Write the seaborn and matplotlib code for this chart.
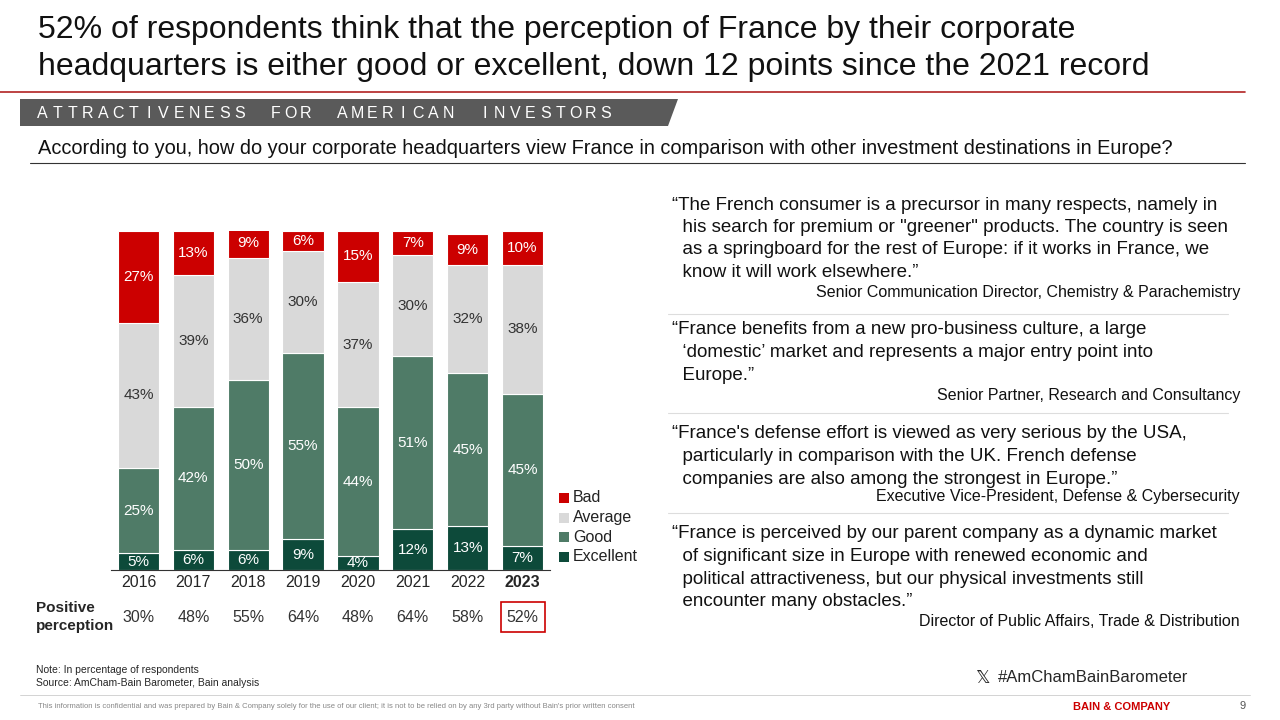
import matplotlib
matplotlib.use("Agg")
import matplotlib.pyplot as plt
import seaborn as sns
import numpy as np
import pandas as pd
from matplotlib.patches import Polygon, Rectangle

years = ["2016", "2017", "2018", "2019", "2020", "2021", "2022", "2023"]
excellent = [5, 6, 6, 9, 4, 12, 13, 7]
good = [25, 42, 50, 55, 44, 51, 45, 45]
average = [43, 39, 36, 30, 37, 30, 32, 38]
bad = [27, 13, 9, 6, 15, 7, 9, 10]
positive = ["30%", "48%", "55%", "64%", "48%", "64%", "58%", "52%"]
series_names = ["Bad", "Average", "Good", "Excellent"]
colors = {"Bad": "#CC0000", "Average": "#D9D9D9", "Good": "#4F7B67", "Excellent": "#0D4A3A"}
txtcol = {"Bad": "white", "Average": "#333333", "Good": "white", "Excellent": "white"}

sns.set_style("white")
plt.rcParams['font.family'] = ['Liberation Sans', 'DejaVu Sans']

W, H = 1280, 720
fig = plt.figure(figsize=(12.8, 7.2), dpi=100)

def fx(x): return x / W
def fy(y): return 1 - y / H

# Title
fig.text(fx(38), fy(30), "52% of respondents think that the perception of France by their corporate",
         fontsize=23, va="center", color="#111111")
fig.text(fx(38), fy(67), "headquarters is either good or excellent, down 12 points since the 2021 record",
         fontsize=23, va="center", color="#111111")
fig.add_artist(plt.Line2D([0, fx(1245)], [fy(92), fy(92)], color="#B22222", lw=1.2))
# banner
fig.add_artist(Polygon([[fx(20), fy(99)], [fx(678), fy(99)], [fx(668), fy(126)], [fx(20), fy(126)]],
                       closed=True, facecolor="#5A5A5A", edgecolor="none", transform=fig.transFigure))
words = ["ATTRACTIVENESS", "FOR", "AMERICAN", "INVESTORS"]
xpos = 42.0
for wi, w in enumerate(words):
    for ci, ch in enumerate(w):
        fig.text(fx(xpos), fy(113), ch, fontsize=11.5, color="white", va="center", ha="center")
        if ci < len(w) - 1:
            xpos += 15.2
    xpos += 36
fig.text(fx(38), fy(148), "According to you, how do your corporate headquarters view France in comparison with other investment destinations in Europe?",
         fontsize=14.4, va="center", color="#111111")
fig.add_artist(plt.Line2D([fx(30), fx(1245)], [fy(163), fy(163)], color="#333333", lw=0.8))

# Chart
ax = fig.add_axes([fx(111), fy(570), fx(439), (570 - 231) / H])
df = pd.DataFrame({"year": years, "Excellent": excellent, "Good": good, "Average": average, "Bad": bad})
order_stack = ["Excellent", "Good", "Average", "Bad"]
bottom = np.zeros(len(years))
for s in order_stack:
    vals = np.array(df[s], dtype=float)
    sns.barplot(x=df["year"], y=vals, bottom=bottom, color=colors[s], width=0.75,
                edgecolor="white", linewidth=0.8, ax=ax, saturation=1)
    for i, v in enumerate(vals):
        ax.text(i, bottom[i] + v / 2, f"{int(v)}%", ha="center", va="center",
                color=txtcol[s], fontsize=11)
    bottom += vals
ax.set_ylim(0, 100)
ax.set_xlim(-0.5, 7.5)
ax.set_yticks([])
ax.set_xlabel("")
ax.set_ylabel("")
for sp in ["top", "left", "right"]:
    ax.spines[sp].set_visible(False)
ax.spines["bottom"].set_color("#333333")
ax.tick_params(axis="x", length=0, labelsize=11.5)
for l in ax.get_xticklabels():
    if l.get_text() == "2023":
        l.set_fontweight("bold")

# positive perception row
fig.text(fx(36), fy(608), "Positive", fontsize=11, fontweight="bold", va="center")
fig.text(fx(36), fy(626), "perception", fontsize=11, fontweight="bold", va="center")
for i, p in enumerate(positive):
    xd = ax.transData.transform((i, 0))[0]
    fig.text(xd / W, fy(617), p, ha="center", va="center", fontsize=11.5, color="#333333")
xd = ax.transData.transform((7, 0))[0]
fig.add_artist(Rectangle((fx(xd - 22), fy(632)), 44 / W, 30 / H, fill=False, edgecolor="#CC0000",
                         lw=1.2, transform=fig.transFigure))

# legend
for k, s in enumerate(series_names):
    y = 498 + k * 19.5
    fig.add_artist(Rectangle((fx(559), fy(y + 5)), 10 / W, 10 / H, facecolor=colors[s],
                             edgecolor="none", transform=fig.transFigure))
    fig.text(fx(573), fy(y), s, fontsize=11.5, va="center", color="#222222")

# quotes
quotes = [
    (["\u201cThe French consumer is a precursor in many respects, namely in",
      "  his search for premium or \"greener\" products. The country is seen",
      "  as a springboard for the rest of Europe: if it works in France, we",
      "  know it will work elsewhere.\u201d"], 205, "Senior Communication Director, Chemistry & Parachemistry", 293),
    (["\u201cFrance benefits from a new pro-business culture, a large",
      "  \u2018domestic\u2019 market and represents a major entry point into",
      "  Europe.\u201d"], 330, "Senior Partner, Research and Consultancy", 395),
    (["\u201cFrance's defense effort is viewed as very serious by the USA,",
      "  particularly in comparison with the UK. French defense",
      "  companies are also among the strongest in Europe.\u201d"], 434, "Executive Vice-President, Defense & Cybersecurity", 497),
    (["\u201cFrance is perceived by our parent company as a dynamic market",
      "  of significant size in Europe with renewed economic and",
      "  political attractiveness, but our physical investments still",
      "  encounter many obstacles.\u201d"], 534, "Director of Public Affairs, Trade & Distribution", 622),
]
for lines, y0, author, ya in quotes:
    for j, line in enumerate(lines):
        fig.text(fx(672), fy(y0 + j * 22.5), line, fontsize=13.5, va="center", color="#111111")
    fig.text(fx(1240), fy(ya), author, fontsize=11.5, va="center", ha="right", color="#111111")
for y in [314, 413, 513]:
    fig.add_artist(plt.Line2D([fx(668), fx(1228)], [fy(y), fy(y)], color="#DDDDDD", lw=0.8))

fig.text(fx(975), fy(678), "\U0001D54F", fontsize=13, va="center", family=["DejaVu Sans"])
fig.text(fx(998), fy(678), "#AmChamBainBarometer", fontsize=12, va="center")
fig.text(fx(36), fy(670), "Note: In percentage of respondents", fontsize=7.5, va="center")
fig.text(fx(36), fy(683), "Source: AmCham-Bain Barometer, Bain analysis", fontsize=7.5, va="center")
fig.add_artist(plt.Line2D([fx(20), fx(1250)], [fy(695), fy(695)], color="#CCCCCC", lw=0.6))
fig.text(fx(38), fy(706), "This information is confidential and was prepared by Bain & Company solely for the use of our client; it is not to be relied on by any 3rd party without Bain's prior written consent",
         fontsize=5.5, va="center", color="#888888")
fig.text(fx(1170), fy(707), "BAIN & COMPANY", fontsize=8, fontweight="bold", color="#CC0000", va="center", ha="right")
fig.text(fx(1240), fy(706), "9", fontsize=8, color="#555555", va="center")

fig.savefig("out.png", dpi=100)
